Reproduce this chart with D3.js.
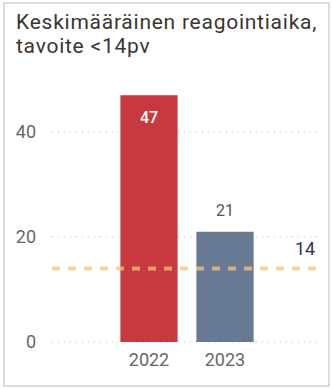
<!DOCTYPE html>
<html>
<head>
<meta charset="utf-8">
<script src="https://cdn.jsdelivr.net/npm/d3@7"></script>
<style>
  html, body { margin: 0; padding: 0; background: #fff; }
  svg { display: block; font-family: Roboto, "Open Sans", sans-serif; }
</style>
</head>
<body>
<svg width="333" height="389"></svg>
<script>
const titleLines = ["Keskimääräinen reagointiaika,", "tavoite <14pv"];
const years = ["2022", "2023"];
const values = [47, 21];
const barColors = ["#c8393f", "#687994"];
const yTicks = [0, 20, 40];
const target = 14;

const svg = d3.select("svg");
const W = 333, H = 389;

// card frame
svg.append("rect")
  .attr("x", 4).attr("y", 3)
  .attr("width", W - 8).attr("height", H - 6)
  .attr("fill", "#fff")
  .attr("stroke", "#dcdcdc")
  .attr("stroke-width", 2);

svg.append("g")
  .selectAll("text")
  .data(titleLines)
  .join("text")
  .attr("x", 16)
  .attr("y", (d, i) => 29 + i * 24)
  .attr("fill", "#3a3632")
  .attr("font-size", 21)
  .attr("letter-spacing", 0.75)
  .text(d => d);

const left = 52, right = 322;
const x = d3.scaleBand()
  .domain(years)
  .range([left, right])
  .paddingInner(0.247)
  .paddingOuter(0.9);

const y = d3.scaleLinear()
  .domain([0, 20])
  .range([342, 237]);

// grid
svg.append("g")
  .selectAll("line")
  .data(yTicks)
  .join("line")
  .attr("x1", left).attr("x2", right)
  .attr("y1", d => y(d)).attr("y2", d => y(d))
  .attr("stroke", "#b8b8b8")
  .attr("stroke-width", 1)
  .attr("stroke-dasharray", "1,5");

svg.append("g")
  .selectAll("text")
  .data(yTicks)
  .join("text")
  .attr("x", 36)
  .attr("y", d => y(d))
  .attr("dy", "0.36em")
  .attr("text-anchor", "end")
  .attr("fill", "#666")
  .attr("font-size", 18)
  .text(d => d);

// bars
svg.append("g")
  .selectAll("rect")
  .data(years)
  .join("rect")
  .attr("x", d => x(d))
  .attr("y", (d, i) => y(values[i]))
  .attr("width", x.bandwidth())
  .attr("height", (d, i) => y(0) - y(values[i]))
  .attr("fill", (d, i) => barColors[i]);

// target line
svg.append("line")
  .attr("x1", left).attr("x2", 316)
  .attr("y1", y(target)).attr("y2", y(target))
  .attr("stroke", "#f7c27a")
  .attr("stroke-opacity", 0.75)
  .attr("stroke-width", 4)
  .attr("stroke-dasharray", "8,8");

svg.append("text")
  .attr("x", 305)
  .attr("y", y(target) - 20)
  .attr("dy", "0.36em")
  .attr("text-anchor", "middle")
  .attr("fill", "#2c3452")
  .attr("font-size", 18)
  .text(target);

// value labels
svg.append("g")
  .selectAll("text")
  .data(years)
  .join("text")
  .attr("x", d => x(d) + x.bandwidth() / 2)
  .attr("y", (d, i) => values[i] > 30 ? y(values[i]) + 22 : y(values[i]) - 22)
  .attr("dy", "0.36em")
  .attr("text-anchor", "middle")
  .attr("fill", (d, i) => values[i] > 30 ? "#fff" : "#555")
  .attr("font-weight", (d, i) => values[i] > 30 ? 500 : 400)
  .attr("font-size", 16)
  .text((d, i) => values[i]);

// x labels
svg.append("g")
  .selectAll("text")
  .data(years)
  .join("text")
  .attr("x", d => x(d) + x.bandwidth() / 2)
  .attr("y", 360)
  .attr("dy", "0.36em")
  .attr("text-anchor", "middle")
  .attr("fill", "#666")
  .attr("font-size", 18)
  .text(d => d);
</script>
</body>
</html>
